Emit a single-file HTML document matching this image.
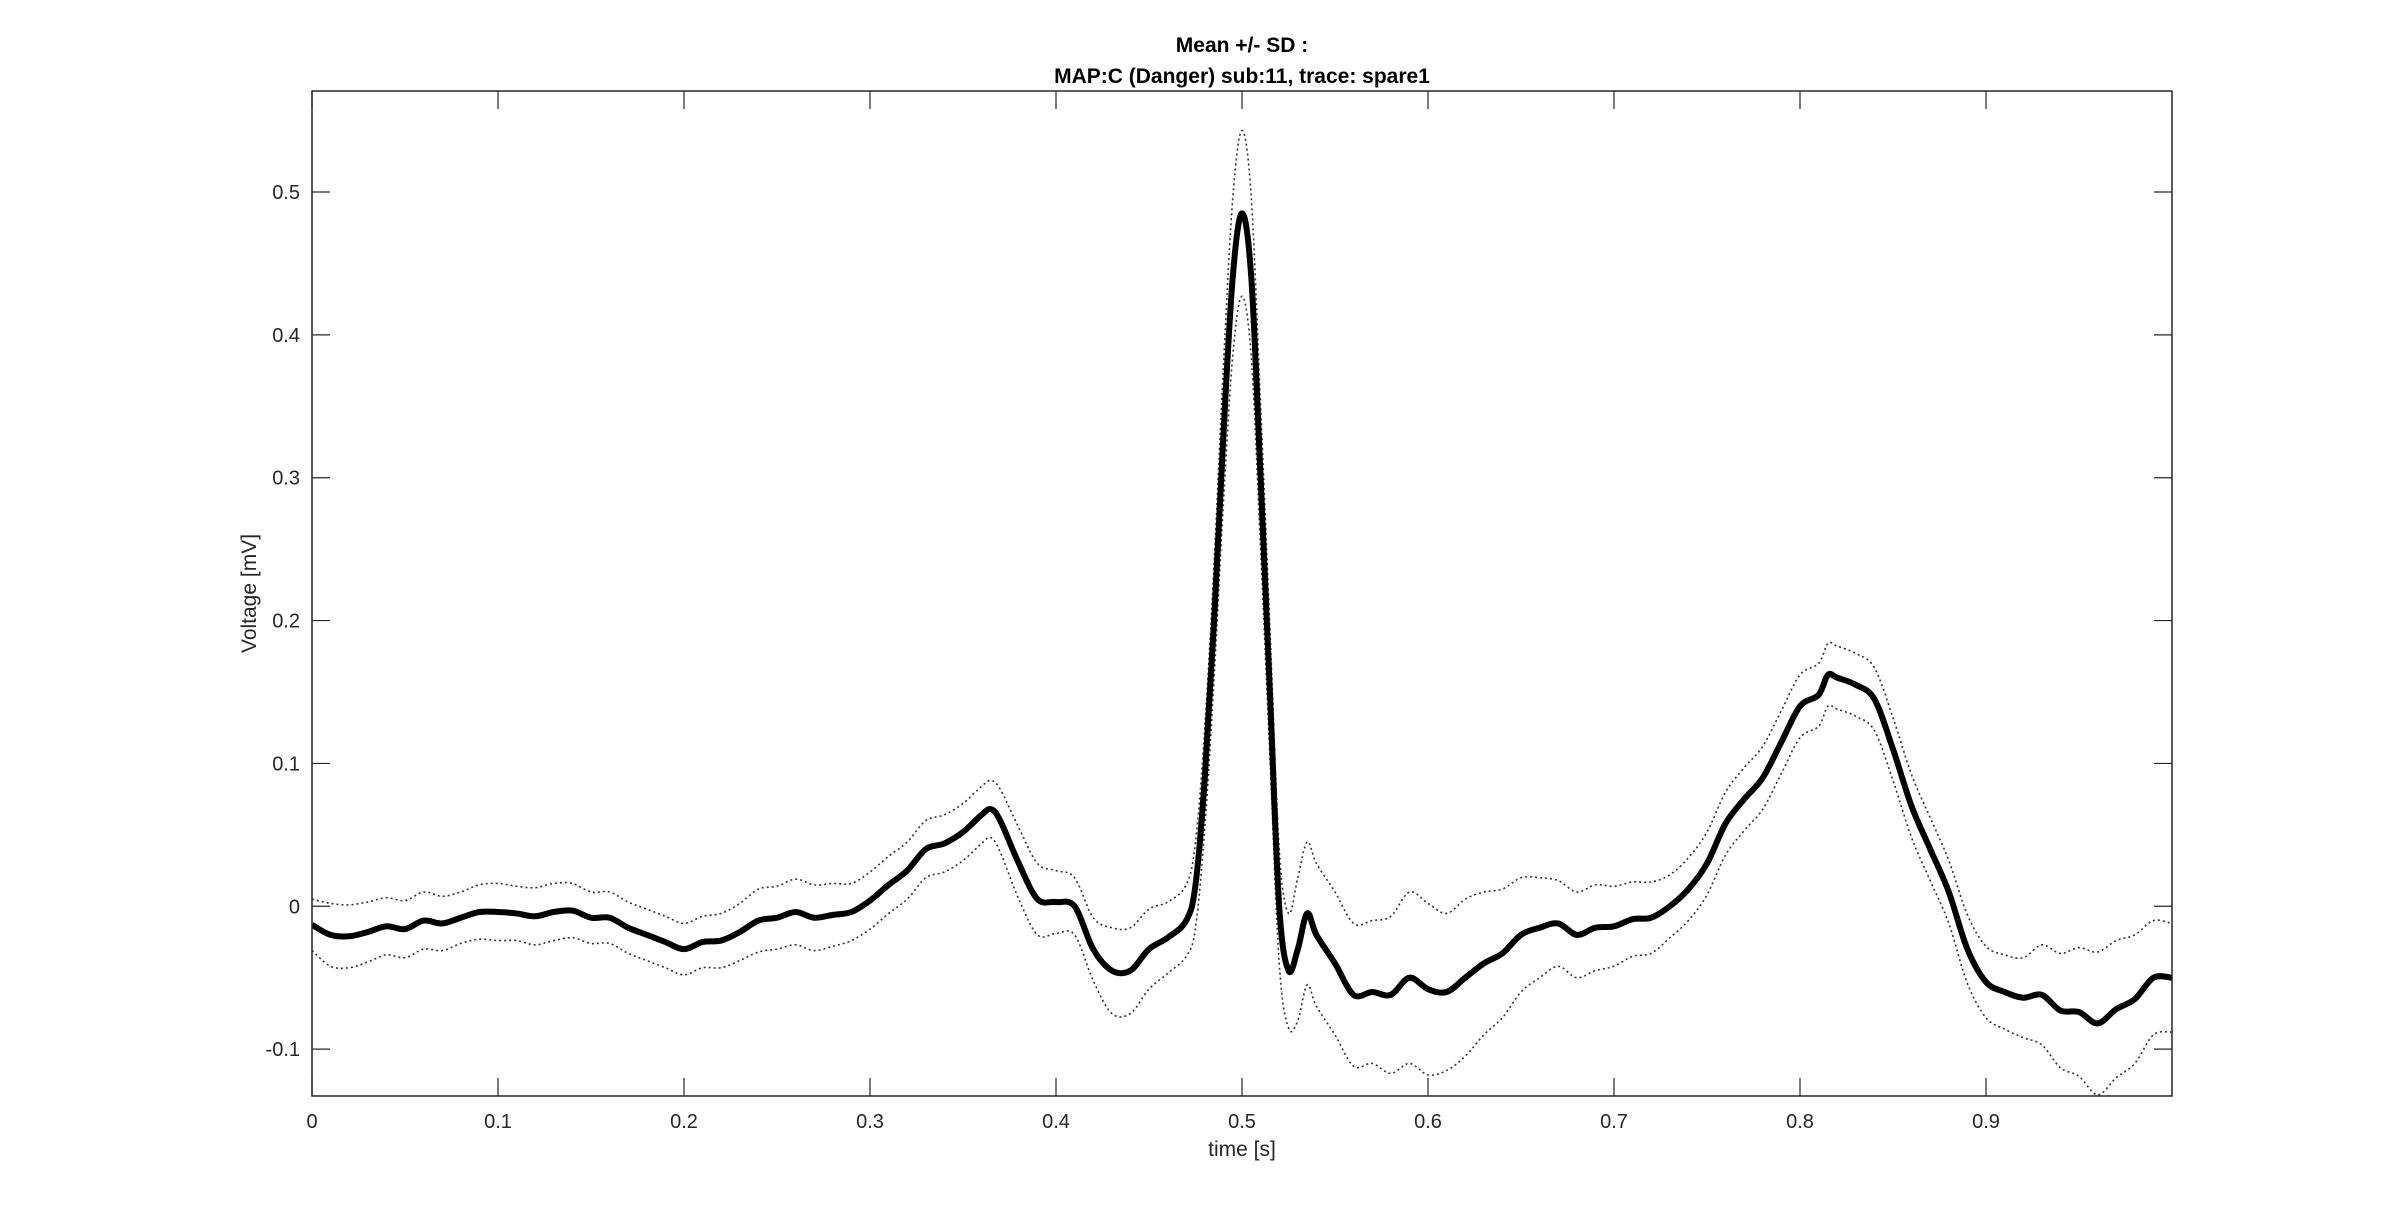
<!DOCTYPE html>
<html><head><meta charset="utf-8"><style>
html,body{margin:0;padding:0;background:#fff;}
svg{display:block;font-family:"Liberation Sans",Arial,sans-serif;}
</style></head><body>
<svg id="chart" width="2400" height="1232" viewBox="0 0 2400 1232"></svg>
<script>
const times=[0,0.01,0.02,0.03,0.04,0.05,0.06,0.07,0.08,0.09,0.10,0.11,0.12,0.13,0.14,0.15,0.16,0.17,0.18,0.19,0.20,0.21,0.22,0.23,0.24,0.25,0.26,0.27,0.28,0.29,0.30,0.31,0.32,0.33,0.34,0.35,0.36,0.365,0.37,0.38,0.39,0.40,0.41,0.42,0.43,0.44,0.45,0.46,0.47,0.475,0.48,0.485,0.49,0.495,0.50,0.505,0.51,0.515,0.52,0.525,0.53,0.535,0.54,0.55,0.56,0.57,0.58,0.59,0.60,0.61,0.62,0.63,0.64,0.65,0.66,0.67,0.68,0.69,0.70,0.71,0.72,0.73,0.74,0.75,0.76,0.77,0.78,0.79,0.80,0.81,0.815,0.82,0.83,0.84,0.85,0.86,0.87,0.88,0.89,0.90,0.91,0.92,0.93,0.94,0.95,0.96,0.97,0.98,0.99,1.0];
const meanVals=[-0.013,-0.02,-0.021,-0.018,-0.014,-0.016,-0.01,-0.012,-0.008,-0.004,-0.004,-0.005,-0.007,-0.004,-0.003,-0.008,-0.008,-0.015,-0.02,-0.025,-0.03,-0.025,-0.024,-0.018,-0.01,-0.008,-0.004,-0.008,-0.006,-0.004,0.004,0.015,0.025,0.04,0.044,0.052,0.064,0.068,0.06,0.03,0.005,0.003,0.0,-0.03,-0.045,-0.045,-0.03,-0.022,-0.01,0.015,0.09,0.2,0.33,0.44,0.485,0.44,0.3,0.15,0.0,-0.045,-0.03,-0.005,-0.02,-0.04,-0.062,-0.06,-0.062,-0.05,-0.058,-0.06,-0.05,-0.04,-0.033,-0.02,-0.015,-0.012,-0.02,-0.015,-0.014,-0.009,-0.008,0.0,0.012,0.03,0.058,0.075,0.09,0.115,0.14,0.148,0.162,0.16,0.155,0.145,0.11,0.07,0.04,0.01,-0.03,-0.053,-0.06,-0.064,-0.062,-0.073,-0.074,-0.082,-0.072,-0.065,-0.05,-0.05];
const sdVals=[0.018,0.022,0.022,0.021,0.02,0.02,0.02,0.019,0.018,0.019,0.02,0.019,0.02,0.02,0.019,0.018,0.018,0.018,0.018,0.018,0.018,0.018,0.019,0.02,0.022,0.022,0.023,0.023,0.022,0.02,0.02,0.02,0.02,0.02,0.02,0.02,0.02,0.02,0.022,0.025,0.025,0.022,0.02,0.022,0.03,0.03,0.028,0.025,0.025,0.03,0.035,0.04,0.048,0.055,0.058,0.056,0.05,0.045,0.04,0.04,0.05,0.05,0.05,0.05,0.05,0.05,0.055,0.06,0.06,0.055,0.055,0.05,0.045,0.04,0.035,0.03,0.03,0.03,0.028,0.026,0.025,0.022,0.022,0.022,0.022,0.022,0.022,0.022,0.022,0.022,0.022,0.022,0.022,0.022,0.022,0.022,0.022,0.022,0.024,0.025,0.026,0.028,0.035,0.04,0.045,0.05,0.048,0.045,0.04,0.038];
const xTicks=[0,0.1,0.2,0.3,0.4,0.5,0.6,0.7,0.8,0.9];
const xTickLabels=["0","0.1","0.2","0.3","0.4","0.5","0.6","0.7","0.8","0.9"];
const yTicks=[-0.1,0,0.1,0.2,0.3,0.4,0.5];
const yTickLabels=["-0.1","0","0.1","0.2","0.3","0.4","0.5"];

const L=312,R=2172,T=91,B=1096,XMIN=0,XMAX=1.0,YMIN=-0.1328,YMAX=0.5707;
const sx=v=>L+(v-XMIN)/(XMAX-XMIN)*(R-L);
const sy=v=>B-(v-YMIN)/(YMAX-YMIN)*(B-T);
const svg=document.getElementById('chart');
const NS='http://www.w3.org/2000/svg';
function mk(tag,attrs,parent){const e=document.createElementNS(NS,tag);for(const k in attrs)e.setAttribute(k,attrs[k]);(parent||svg).appendChild(e);return e;}

const defs=mk('defs',{});
const cp=mk('clipPath',{id:'clip'},defs);
mk('rect',{x:L,y:T,width:R-L,height:B-T},cp);

function pathFrom(vals){
  const pts=times.map((t,i)=>[sx(t),sy(vals[i])]);
  let d='M'+pts[0][0]+','+pts[0][1];
  for(let i=0;i<pts.length-1;i++){
    const p0=pts[Math.max(0,i-1)],p1=pts[i],p2=pts[i+1],p3=pts[Math.min(pts.length-1,i+2)];
    const c1=[p1[0]+(p2[0]-p0[0])/6,p1[1]+(p2[1]-p0[1])/6];
    const c2=[p2[0]-(p3[0]-p1[0])/6,p2[1]-(p3[1]-p1[1])/6];
    d+=' C'+c1[0]+','+c1[1]+' '+c2[0]+','+c2[1]+' '+p2[0]+','+p2[1];
  }
  return d;
}
const g=mk('g',{'clip-path':'url(#clip)'});


const up=mk('path',{d:pathFrom(meanVals.map((m,i)=>m+sdVals[i])),fill:'none',stroke:'#333','stroke-width':1.6,'stroke-dasharray':'2,3'},g);


const lo=mk('path',{d:pathFrom(meanVals.map((m,i)=>m-sdVals[i])),fill:'none',stroke:'#333','stroke-width':1.6,'stroke-dasharray':'2,3'},g);


const mn=mk('path',{d:pathFrom(meanVals),fill:'none',stroke:'#000','stroke-width':6,'stroke-linejoin':'round'},g);



const box=mk('rect',{x:L,y:T,width:R-L,height:B-T,fill:'none',stroke:'#262626','stroke-width':1.5});



xTicks.forEach((v,i)=>{
  const x=sx(v);
  mk('line',{x1:x,x2:x,y1:B,y2:B-18,stroke:'#262626','stroke-width':1.2});
  mk('line',{x1:x,x2:x,y1:T,y2:T+18,stroke:'#262626','stroke-width':1.2});
  const t=mk('text',{x:x,y:B+32,'text-anchor':'middle','font-size':20,fill:'#262626'});
  t.textContent=xTickLabels[i];
  
  
});
yTicks.forEach((v,i)=>{
  const y=sy(v);
  mk('line',{x1:L,x2:L+18,y1:y,y2:y,stroke:'#262626','stroke-width':1.2});
  mk('line',{x1:R,x2:R-18,y1:y,y2:y,stroke:'#262626','stroke-width':1.2});
  const t=mk('text',{x:L-12,y:y+7,'text-anchor':'end','font-size':20,fill:'#262626'});
  t.textContent=yTickLabels[i];
  
  
});
const xt=mk('text',{x:(L+R)/2,y:B+60,'text-anchor':'middle','font-size':21,fill:'#262626'});
xt.textContent='time [s]';


const yt=mk('text',{x:0,y:0,'text-anchor':'middle','font-size':21,fill:'#262626',transform:'translate(256,'+((T+B)/2)+') rotate(-90)'});
yt.textContent='Voltage [mV]';


const t1=mk('text',{x:(L+R)/2,y:52,'text-anchor':'middle','font-size':21,'font-weight':'bold',fill:'#000'});
t1.textContent='Mean +/- SD :';


const t2=mk('text',{x:(L+R)/2,y:83,'text-anchor':'middle','font-size':21,'font-weight':'bold',fill:'#000'});
t2.textContent='MAP:C (Danger) sub:11, trace: spare1';


</script>
</body></html>
